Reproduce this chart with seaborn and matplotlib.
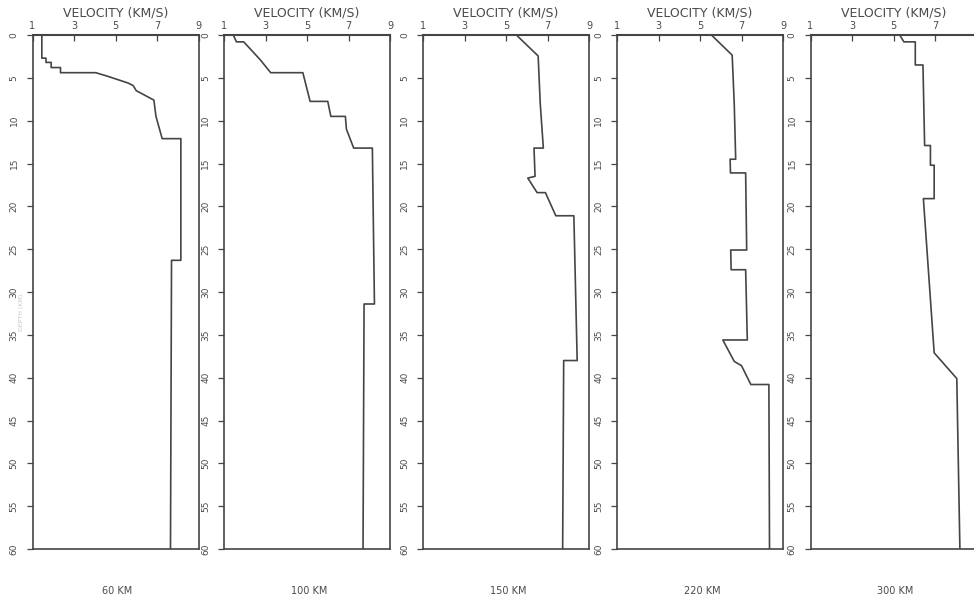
import matplotlib
matplotlib.use("Agg")
import matplotlib.pyplot as plt
import seaborn as sns
import pandas as pd

sns.set_theme(style="white")
plt.rcParams['font.family'] = ['DejaVu Sans']

# ---------------- data ----------------
distances = ["60 KM", "100 KM", "150 KM", "220 KM", "300 KM"]
vel_ticks = [1, 3, 5, 7, 9]
depth_ticks = list(range(0, 61, 5))

depth_60 = [0, 2.7, 2.7, 3.2, 3.2, 3.8, 3.8, 4.4, 4.4, 4.8, 5.6, 5.9, 6.5, 7.6, 9.5, 12.1, 12.1, 26.3, 26.3, 60]
vel_60 = [1.45, 1.45, 1.65, 1.65, 1.9, 1.9, 2.35, 2.35, 4.05, 4.6, 5.6, 5.85, 6.0, 6.85, 6.95, 7.25, 8.15, 8.15, 7.7, 7.65]

depth_100 = [0, 0.8, 0.8, 2.9, 4.4, 4.4, 7.75, 7.75, 9.5, 9.5, 11.0, 13.2, 13.2, 31.4, 31.4, 60]
vel_100 = [1.45, 1.6, 1.95, 2.75, 3.25, 4.8, 5.15, 6.0, 6.15, 6.85, 6.9, 7.25, 8.15, 8.25, 7.75, 7.7]

depth_150 = [0, 2.45, 8.0, 13.2, 13.2, 16.5, 16.7, 18.4, 18.4, 21.1, 21.1, 38.0, 38.0, 60]
vel_150 = [5.5, 6.55, 6.65, 6.8, 6.35, 6.4, 6.05, 6.5, 6.9, 7.4, 8.27, 8.43, 7.78, 7.73]

depth_220 = [0, 2.35, 8.0, 14.5, 14.5, 16.1, 16.1, 25.1, 25.1, 27.4, 27.4, 35.6, 35.6, 38.1, 38.6, 40.8, 40.8, 60]
vel_220 = [5.55, 6.55, 6.65, 6.72, 6.45, 6.47, 7.2, 7.25, 6.48, 6.5, 7.2, 7.28, 6.1, 6.65, 7.0, 7.45, 8.32, 8.35]

depth_300 = [0, 0.8, 0.8, 3.5, 3.5, 12.9, 12.9, 15.2, 15.2, 19.1, 19.1, 37.1, 40.1, 60]
vel_300 = [5.3, 5.5, 6.05, 6.05, 6.42, 6.5, 6.78, 6.78, 6.96, 6.96, 6.44, 6.96, 8.05, 8.2]

profiles = [(depth_60, vel_60), (depth_100, vel_100), (depth_150, vel_150),
            (depth_220, vel_220), (depth_300, vel_300)]

# ---------------- layout ----------------
W, H = 974, 603
fig = plt.figure(figsize=(W / 100, H / 100), dpi=100)
fig.patch.set_facecolor("white")

panel_left_px = [32.5, 224, 423, 617, 810.5]
panel_w_px = 166
top_px, bottom_px = 35, 549
line_col = "#454545"
txt_col = "#4a4a4a"

for i, (dep, vel) in enumerate(profiles):
    ax = fig.add_axes([panel_left_px[i] / W, 1 - bottom_px / H,
                       panel_w_px / W, (bottom_px - top_px) / H])
    df = pd.DataFrame({"velocity": vel, "depth": dep})
    sns.lineplot(data=df, x="velocity", y="depth", sort=False, estimator=None,
                 ax=ax, color=line_col, linewidth=1.2)
    ax.set_xlim(1, 9)
    ax.set_ylim(60, 0)
    ax.xaxis.tick_top()
    ax.xaxis.set_label_position("top")
    ax.set_xticks(vel_ticks)
    ax.set_xticklabels([str(v) for v in vel_ticks], fontsize=7, color=txt_col)
    ax.set_yticks(depth_ticks)
    ax.set_yticklabels([str(d) for d in depth_ticks], fontsize=6.5, color=txt_col,
                       rotation=90, va="center")
    ax.tick_params(axis="x", direction="in", length=4, width=0.9, pad=3,
                   colors=line_col, labelcolor=txt_col)
    ax.tick_params(axis="y", direction="out", length=4, width=0.9, pad=6,
                   colors=line_col, labelcolor=txt_col, left=True)
    ax.set_xlabel("VELOCITY (KM/S)", fontsize=9, color=txt_col, labelpad=3)
    ax.set_ylabel("")
    for sp in ax.spines.values():
        sp.set_color(line_col)
        sp.set_linewidth(1.2)
    ax.spines["top"].set_linewidth(1.5)
    ax.grid(False)
    ax.set_facecolor("white")
    cx = panel_left_px[i] + 85
    fig.text(cx / W, 1 - 591 / H, distances[i], ha="center", va="center",
             fontsize=7, color=txt_col)

fig.text(22 / W, 1 - 312 / H, "DEPTH (KM)", rotation=90, ha="center", va="center",
         fontsize=4.5, color="#c8c8c8")

fig.savefig("out.png", dpi=100)
